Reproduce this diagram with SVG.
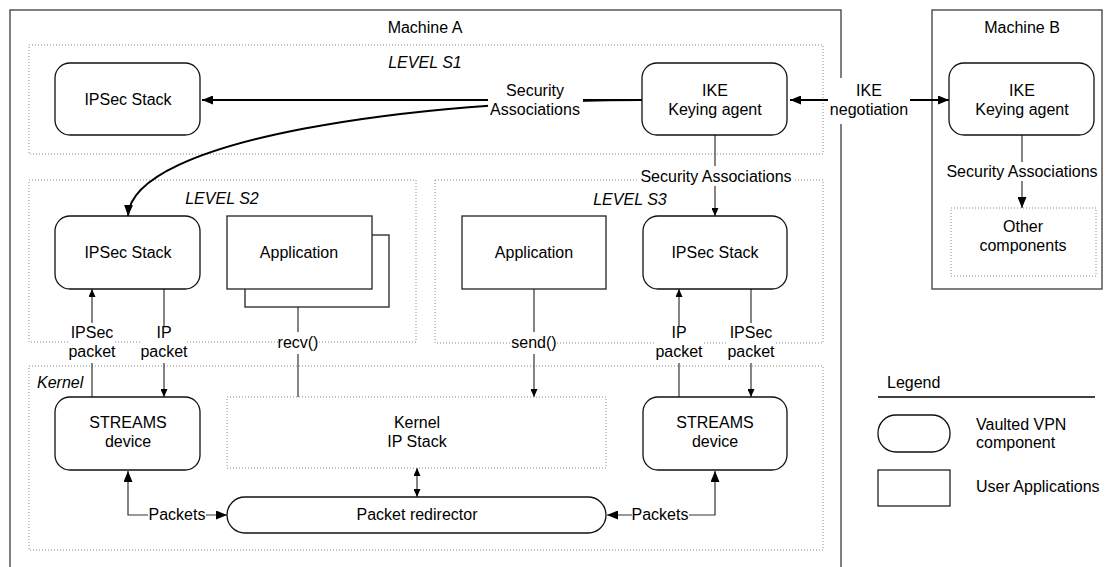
<svg xmlns="http://www.w3.org/2000/svg" width="1110" height="567" viewBox="0 0 1110 567">
  <style>
    text { font-family: "Liberation Sans", Arial, sans-serif; font-size: 16px; fill: #000; text-anchor: middle; }
    .it { font-style: italic; }
    .start { text-anchor: start; }
    .machine { fill: #fff; stroke: #555; stroke-width: 1.5; }
    .level { fill: none; stroke: #8a8a8a; stroke-width: 1; stroke-dasharray: 1 2; }
    .vpn { fill: #fff; stroke: #111; stroke-width: 1.3; }
    .app { fill: #fff; stroke: #222; stroke-width: 1.3; }
    .bg { fill: #fff; stroke: none; }
    .thick { fill: none; stroke: #000; stroke-width: 2; }
    .thin { fill: none; stroke: #333; stroke-width: 1.2; }
  </style>
  <defs>
    <marker id="ah" viewBox="0 0 11 9" refX="11" refY="4.5" markerWidth="11" markerHeight="9" markerUnits="userSpaceOnUse" orient="auto-start-reverse">
      <path d="M0,0 L11,4.5 L0,9 z" fill="#000"/>
    </marker>
    <marker id="as" viewBox="0 0 8 7" refX="8" refY="3.5" markerWidth="8" markerHeight="7" markerUnits="userSpaceOnUse" orient="auto-start-reverse">
      <path d="M0,0 L8,3.5 L0,7 z" fill="#000"/>
    </marker>
  </defs>

  <rect width="1110" height="567" fill="#fff"/>

  <!-- machines -->
  <g id="machine-a">
    <rect class="machine" x="10" y="10" width="831" height="570"/>
    <text x="425" y="33">Machine A</text>
  </g>
  <g id="machine-b">
    <rect class="machine" x="932" y="10" width="170" height="279"/>
    <text x="1022" y="33">Machine B</text>
  </g>

  <!-- privilege levels -->
  <g id="level-s1">
    <rect class="level" x="29" y="45" width="794" height="109"/>
    <text class="it" x="425" y="68">LEVEL S1</text>
  </g>
  <g id="level-s2">
    <rect class="level" x="29" y="180" width="387" height="162"/>
    <text class="it" x="222" y="204">LEVEL S2</text>
  </g>
  <g id="level-s3">
    <rect class="level" x="435" y="180" width="388" height="163"/>
    <text class="it" x="630" y="205">LEVEL S3</text>
  </g>
  <g id="kernel">
    <rect class="level" x="29" y="366" width="794" height="184"/>
    <text class="it start" x="37" y="388">Kernel</text>
  </g>

  <!-- connectors -->
  <g id="connectors">
    <path class="thick" d="M642,100 H202" marker-end="url(#ah)"/>
    <path class="thick" d="M642,100 C420,100 132,138 128,216" marker-end="url(#ah)"/>
    <path class="thick" d="M790,100 H949" marker-start="url(#ah)" marker-end="url(#ah)"/>
    <path class="thin" d="M715,135 V216" marker-end="url(#as)"/>
    <path class="thin" d="M1022,135 V208" marker-end="url(#ah)"/>
    <path class="thin" d="M92,397 V289" marker-end="url(#as)"/>
    <path class="thin" d="M164,289 V397" marker-end="url(#as)"/>
    <path class="thin" d="M298,397 V289" marker-end="url(#as)"/>
    <path class="thin" d="M534,289 V397" marker-end="url(#as)"/>
    <path class="thin" d="M679,397 V289" marker-end="url(#as)"/>
    <path class="thin" d="M751,289 V397" marker-end="url(#as)"/>
    <path class="thin" d="M417,468 V497" marker-start="url(#as)" marker-end="url(#as)"/>
    <path class="thin" d="M128,471 V515 H227" marker-start="url(#ah)" marker-end="url(#ah)"/>
    <path class="thin" d="M715,471 V515 H607" marker-start="url(#ah)" marker-end="url(#ah)"/>

    <!-- connector labels -->
    <rect class="bg" x="488" y="82" width="95" height="38"/>
    <text x="535" y="96">Security</text>
    <text x="535" y="115">Associations</text>

    <rect class="bg" x="828" y="78" width="82" height="46"/>
    <text x="869" y="96">IKE</text>
    <text x="869" y="115">negotiation</text>

    <rect class="bg" x="638" y="166" width="156" height="20"/>
    <text x="716" y="182">Security Associations</text>

    <rect class="bg" x="945" y="162" width="154" height="19"/>
    <text x="1022" y="177">Security Associations</text>

    <rect class="bg" x="69" y="323" width="46" height="40"/>
    <text x="92" y="338">IPSec</text>
    <text x="92" y="357">packet</text>

    <rect class="bg" x="141" y="326" width="46" height="37"/>
    <text x="164" y="338">IP</text>
    <text x="164" y="357">packet</text>

    <rect class="bg" x="279" y="332" width="39" height="22"/>
    <text x="298" y="348">recv()</text>

    <rect class="bg" x="513" y="332" width="42" height="22"/>
    <text x="534" y="348">send()</text>

    <rect class="bg" x="656" y="326" width="46" height="37"/>
    <text x="679" y="338">IP</text>
    <text x="679" y="357">packet</text>

    <rect class="bg" x="728" y="323" width="46" height="40"/>
    <text x="751" y="338">IPSec</text>
    <text x="751" y="357">packet</text>

    <rect class="bg" x="148" y="506" width="58" height="18"/>
    <text x="177" y="520">Packets</text>

    <rect class="bg" x="632" y="506" width="57" height="18"/>
    <text x="660" y="520">Packets</text>
  </g>

  <!-- level S1 -->
  <g id="ipsec-s1">
    <rect class="vpn" x="55" y="63" width="145" height="72" rx="15"/>
    <text x="128" y="105">IPSec Stack</text>
  </g>
  <g id="ike-a">
    <rect class="vpn" x="642" y="63" width="145" height="72" rx="15"/>
    <text x="715" y="96">IKE</text>
    <text x="715" y="115">Keying agent</text>
  </g>

  <!-- machine B -->
  <g id="ike-b">
    <rect class="vpn" x="949" y="63" width="145" height="72" rx="15"/>
    <text x="1022" y="96">IKE</text>
    <text x="1022" y="115">Keying agent</text>
  </g>
  <g id="other-components">
    <rect class="level" x="951" y="208" width="145" height="68"/>
    <text x="1023" y="232">Other</text>
    <text x="1023" y="251">components</text>
  </g>

  <!-- level S2 -->
  <g id="ipsec-s2">
    <rect class="vpn" x="55" y="216" width="145" height="73" rx="15"/>
    <text x="128" y="258">IPSec Stack</text>
  </g>
  <g id="application-s2">
    <rect class="app" x="245" y="235" width="144" height="72"/>
    <rect class="app" x="227" y="216" width="145" height="73"/>
    <text x="299" y="258">Application</text>
  </g>

  <!-- level S3 -->
  <g id="application-s3">
    <rect class="app" x="462" y="216" width="144" height="73"/>
    <text x="534" y="258">Application</text>
  </g>
  <g id="ipsec-s3">
    <rect class="vpn" x="643" y="216" width="144" height="73" rx="15"/>
    <text x="715" y="258">IPSec Stack</text>
  </g>

  <!-- kernel -->
  <g id="streams-left">
    <rect class="vpn" x="55" y="397" width="145" height="73" rx="15"/>
    <text x="128" y="428">STREAMS</text>
    <text x="128" y="447">device</text>
  </g>
  <g id="kernel-ip-stack">
    <rect class="level" x="227" y="397" width="379" height="71"/>
    <text x="417" y="428">Kernel</text>
    <text x="417" y="447">IP Stack</text>
  </g>
  <g id="streams-right">
    <rect class="vpn" x="643" y="397" width="144" height="73" rx="15"/>
    <text x="715" y="428">STREAMS</text>
    <text x="715" y="447">device</text>
  </g>
  <g id="packet-redirector">
    <rect class="vpn" x="227" y="497" width="379" height="36" rx="18"/>
    <text x="417" y="520">Packet redirector</text>
  </g>

  <!-- legend -->
  <g id="legend">
    <text class="start" x="887" y="388">Legend</text>
    <line x1="878" y1="397" x2="1095" y2="397" stroke="#000" stroke-width="1.3"/>
    <rect class="vpn" x="878" y="415" width="72" height="37" rx="18"/>
    <text class="start" x="976" y="430">Vaulted VPN</text>
    <text class="start" x="976" y="448">component</text>
    <rect class="app" x="878" y="470" width="72" height="36"/>
    <text class="start" x="976" y="492">User Applications</text>
  </g>
</svg>
